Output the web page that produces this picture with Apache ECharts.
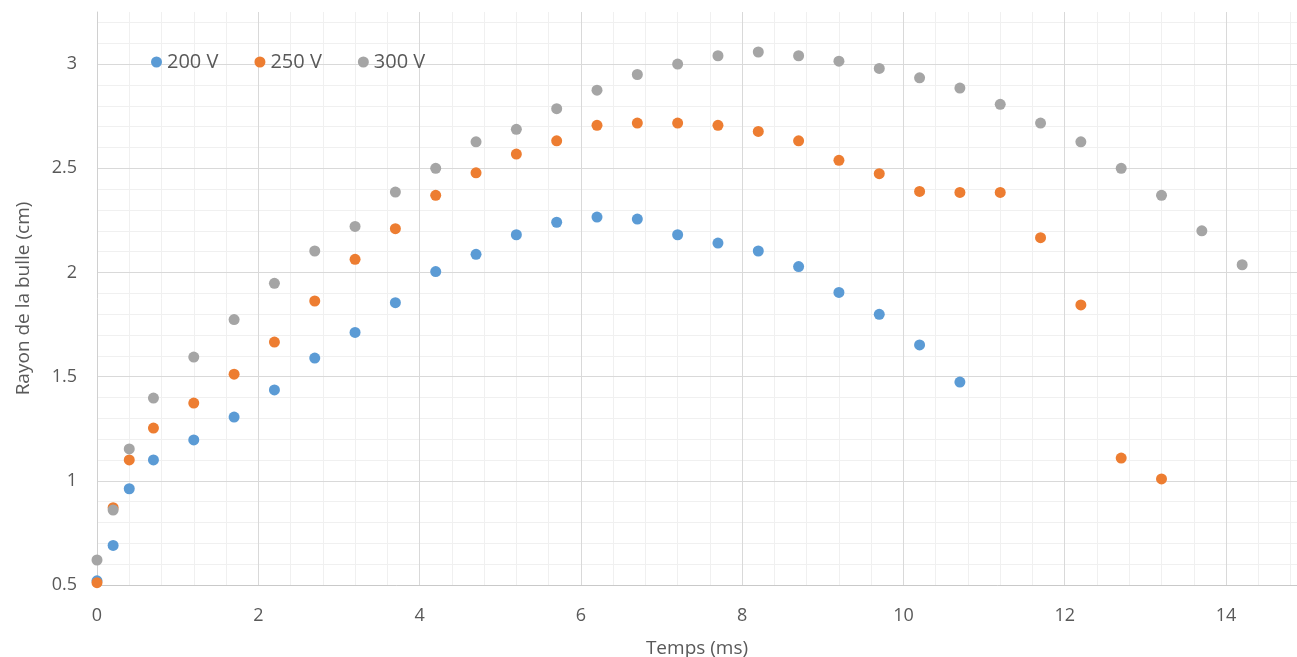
<!DOCTYPE html>
<html>
<head>
<meta charset="utf-8">
<script src="https://cdn.jsdelivr.net/npm/echarts@6/dist/echarts.min.js"></script>
<style>
html,body{margin:0;padding:0;background:#fff;}
#chart{width:1297px;height:657px;}
</style>
</head>
<body>
<div id="chart"></div>
<script>
const seriesNames = ['200 V', '250 V', '300 V'];
const seriesColors = ['#5B9BD5', '#ED7D31', '#A5A5A5'];
const timeMs = [0, 0.2, 0.4, 0.7, 1.2, 1.7, 2.2, 2.7, 3.2, 3.7, 4.2, 4.7, 5.2, 5.7, 6.2, 6.7, 7.2, 7.7, 8.2, 8.7, 9.2, 9.7, 10.2, 10.7, 11.2, 11.7, 12.2, 12.7, 13.2, 13.7, 14.2];
const radius200 = [0.52, 0.69, 0.962, 1.10, 1.196, 1.306, 1.436, 1.589, 1.712, 1.855, 2.004, 2.087, 2.181, 2.241, 2.266, 2.256, 2.181, 2.141, 2.103, 2.028, 1.904, 1.799, 1.652, 1.474];
const radius250 = [0.511, 0.871, 1.10, 1.253, 1.373, 1.512, 1.666, 1.863, 2.063, 2.21, 2.37, 2.478, 2.568, 2.632, 2.706, 2.717, 2.717, 2.706, 2.677, 2.632, 2.538, 2.474, 2.389, 2.384, 2.384, 2.167, 1.844, 1.109, 1.009];
const radius300 = [0.62, 0.86, 1.153, 1.397, 1.594, 1.774, 1.948, 2.103, 2.221, 2.386, 2.50, 2.627, 2.687, 2.786, 2.875, 2.950, 3.0, 3.040, 3.058, 3.040, 3.014, 2.979, 2.934, 2.885, 2.807, 2.717, 2.627, 2.500, 2.370, 2.200, 2.037];
const xTitle = 'Temps (ms)';
const yTitle = 'Rayon de la bulle (cm)';

function pairs(vals) { return vals.map((v, i) => [timeMs[i], v]); }
const allValues = [radius200, radius250, radius300];

const chart = echarts.init(document.getElementById('chart'), null, {renderer: 'canvas'});
const labelFont = {fontFamily: 'Open Sans', fontSize: 18, color: '#595959'};
const titleFont = {fontFamily: 'Open Sans', fontSize: 19, color: '#595959'};
const X_MAX = 14.88;
const option = {
  animation: false,
  backgroundColor: '#ffffff',
  grid: {left: 97, right: 0, top: 12, bottom: 72, containLabel: false, outerBoundsMode: 'none'},
  legend: {
    left: 146, top: 47,
    icon: 'circle', itemWidth: 11, itemHeight: 11, itemGap: 36,
    textStyle: {fontFamily: 'Open Sans', fontSize: 20, color: '#595959'},
    data: seriesNames
  },
  xAxis: [
    {
      type: 'value', min: 0, max: X_MAX, interval: 0.4, position: 'bottom', z: 0,
      axisLine: {show: false}, axisTick: {show: false}, axisLabel: {show: false},
      splitLine: {show: true, showMinLine: false, showMaxLine: false, lineStyle: {color: '#f0f0f0', width: 1}}
    },
    {
      type: 'value', min: 0, max: X_MAX, interval: 2, position: 'bottom', z: 1,
      name: xTitle, nameLocation: 'middle', nameGap: 54,
      nameTextStyle: titleFont,
      axisLine: {show: true, onZero: false, lineStyle: {color: '#c9c9c9', width: 1}},
      axisTick: {show: false},
      axisLabel: Object.assign({margin: 22, showMaxLabel: false}, labelFont),
      splitLine: {show: true, showMinLine: false, showMaxLine: false, lineStyle: {color: '#d9d9d9', width: 1}}
    }
  ],
  yAxis: [
    {
      type: 'value', min: 0.5, max: 3.25, interval: 0.1, position: 'left', z: 0,
      axisLine: {show: false}, axisTick: {show: false}, axisLabel: {show: false},
      splitLine: {show: true, showMinLine: false, showMaxLine: false, lineStyle: {color: '#f0f0f0', width: 1}}
    },
    {
      type: 'value', min: 0.5, max: 3.25, interval: 0.5, position: 'left', z: 1,
      name: yTitle, nameLocation: 'middle', nameGap: 64, nameRotate: 90,
      nameTextStyle: titleFont,
      axisLine: {show: true, onZero: false, lineStyle: {color: '#d0d0d0', width: 1}},
      axisTick: {show: false},
      axisLabel: Object.assign({margin: 20, showMaxLabel: false}, labelFont),
      splitLine: {show: true, showMinLine: false, showMaxLine: false, lineStyle: {color: '#d9d9d9', width: 1}}
    }
  ],
  series: seriesNames.map((name, k) => ({
    name: name,
    type: 'scatter',
    xAxisIndex: 1, yAxisIndex: 1,
    symbol: 'circle', symbolSize: 11,
    itemStyle: {color: seriesColors[k], opacity: 1},
    data: pairs(allValues[k]),
    z: 2 + k
  }))
};
chart.setOption(option);
</script>
</body>
</html>
